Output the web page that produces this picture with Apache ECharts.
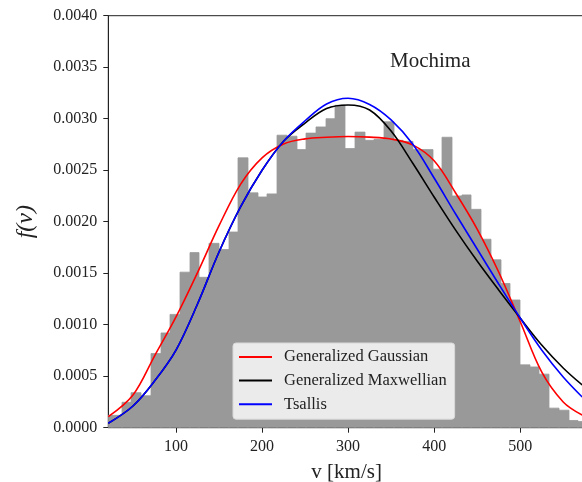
<!DOCTYPE html>
<html>
<head>
<meta charset="utf-8">
<script src="https://cdn.jsdelivr.net/npm/echarts@6/dist/echarts.min.js"></script>
<style>
    html, body { margin: 0; padding: 0; background: #fff; }
    #chart { width: 582px; height: 482px; }
</style>
</head>
<body>
<div id="chart"></div>
<script>
let chart = echarts.init(document.getElementById('chart'));

// histogram: bins of equal width, first bin starts left of the visible range
const binStart = 14.28;
const binWidth = 11.29;
const histHeights = [
    0.00012, 0.00012, 0.000247, 0.00034, 0.00031, 0.00072, 0.00092, 0.0011, 0.00151, 0.0017,
    0.00146, 0.00179, 0.00173, 0.0019, 0.00262, 0.00228, 0.00224, 0.00227, 0.00284, 0.00283,
    0.0027, 0.00286, 0.00292, 0.003, 0.00313, 0.00271, 0.00287, 0.00279, 0.0028, 0.00297,
    0.00279, 0.00278, 0.0027, 0.0027, 0.00251, 0.00282, 0.00225, 0.00226, 0.00212, 0.00183,
    0.00163, 0.0014, 0.00124, 0.00061, 0.00059, 0.00052, 0.00019, 0.00017, 0.00007, 0.00006
];

const curveV = [21.3, 50, 75, 100, 125, 150, 175, 200, 225, 250, 275, 300,
    325, 350, 375, 400, 425, 450, 475, 500, 525, 550, 572.1];
const gaussF = [0.000107, 0.000318, 0.000696, 0.001075, 0.001505, 0.001961, 0.002363, 0.00262, 0.002755, 0.002804, 0.00282, 0.002827,
    0.002821, 0.002803, 0.002746, 0.002591, 0.002279, 0.001929, 0.001512, 0.001031, 0.000541, 0.00025, 0.000123];
const maxwellF = [0.000043, 0.000211, 0.000453, 0.000754, 0.001201, 0.001706, 0.002143, 0.002499, 0.002781, 0.002958, 0.003099, 0.003133,
    0.003084, 0.00288, 0.00257, 0.00224, 0.001918, 0.001618, 0.001337, 0.001065, 0.000803, 0.00058, 0.000415];
const tsallisF = [0.000043, 0.000211, 0.000453, 0.000754, 0.001201, 0.001706, 0.002143, 0.002499, 0.002781, 0.00298, 0.003143, 0.003198,
    0.003138, 0.002988, 0.002754, 0.002424, 0.002075, 0.001735, 0.001395, 0.001065, 0.000754, 0.000492, 0.000298];

const xTicks = [100, 200, 300, 400, 500];
const yTicks = [0, 0.0005, 0.001, 0.0015, 0.002, 0.0025, 0.003, 0.0035, 0.004];

let histData = histHeights.map((h, i) => [binStart + i * binWidth, binStart + (i + 1) * binWidth, h]);
let pairs = f => curveV.map((v, i) => [v, f[i]]);

const serif = 'Liberation Serif';

let option = {
    animation: false,
    title: {
        text: 'Mochima',
        left: 390,
        top: 51,
        padding: 0,
        textStyle: {fontFamily: serif, fontSize: 21, fontWeight: 'normal', color: '#222'}
    },
    grid: {
        left: 108.3,
        top: 15.7,
        bottom: 54.3,
        right: -7,
        outerBoundsMode: 'none',
        containLabel: false,
        show: true,
        borderColor: '#222',
        borderWidth: 1
    },
    legend: {
        orient: 'vertical',
        left: 233,
        top: 343,
        icon: 'rect',
        itemWidth: 33,
        itemHeight: 2,
        itemGap: 6.6,
        padding: [5.5, 8, 6.5, 6],
        backgroundColor: '#ebebeb',
        borderColor: '#d8d8d8',
        borderWidth: 1,
        borderRadius: 3,
        textStyle: {fontFamily: serif, fontSize: 16.5, color: '#222', padding: [0, 0, 0, 7]},
        data: ['Generalized Gaussian', 'Generalized Maxwellian', 'Tsallis']
    },
    xAxis: {
        type: 'value',
        min: 21.3,
        max: 580,
        name: 'v [km/s]',
        nameLocation: 'middle',
        nameGap: 34,
        nameTextStyle: {fontFamily: serif, fontSize: 21, color: '#222', padding: [0, 4, 0, 0]},
        splitLine: {show: false},
        axisLine: {lineStyle: {color: '#222'}},
        axisTick: {customValues: xTicks, length: 5, lineStyle: {color: '#222'}},
        axisLabel: {customValues: xTicks, margin: 11, fontFamily: serif, fontSize: 16, color: '#222'}
    },
    yAxis: {
        type: 'value',
        min: 0,
        max: 0.004,
        name: 'f(v)',
        nameLocation: 'middle',
        nameGap: 71,
        nameRotate: 90,
        nameTextStyle: {fontFamily: serif, fontStyle: 'italic', fontSize: 24, color: '#222'},
        splitLine: {show: false},
        axisLine: {show: true, lineStyle: {color: '#222'}},
        axisTick: {show: true, customValues: yTicks, length: 5, lineStyle: {color: '#222'}},
        axisLabel: {
            customValues: yTicks, margin: 11, fontFamily: serif, fontSize: 16, color: '#222',
            formatter: v => v.toFixed(4)
        }
    },
    series: [
        {
            type: 'custom',
            name: 'hist',
            clip: true,
            renderItem: function (params, api) {
                let p0 = api.coord([api.value(0), api.value(2)]);
                let p1 = api.coord([api.value(1), 0]);
                let x0 = Math.round(p0[0]), x1 = Math.round(p1[0]);
                let rect = echarts.graphic.clipRectByRect(
                    {x: x0, y: p0[1], width: x1 - x0, height: p1[1] - p0[1]},
                    {x: params.coordSys.x, y: params.coordSys.y, width: params.coordSys.width, height: params.coordSys.height}
                );
                return rect && {type: 'rect', shape: rect, style: {fill: '#999999', stroke: '#999999', lineWidth: 0.8}};
            },
            encode: {x: [0, 1], y: 2},
            data: histData,
            z: 1
        },
        {
            name: 'Generalized Gaussian', type: 'line', smooth: 0.35, symbol: 'none',
            lineStyle: {color: '#ff0000', width: 1.6}, itemStyle: {color: '#ff0000'},
            data: pairs(gaussF), z: 3
        },
        {
            name: 'Generalized Maxwellian', type: 'line', smooth: 0.35, symbol: 'none',
            lineStyle: {color: '#000000', width: 1.6}, itemStyle: {color: '#000000'},
            data: pairs(maxwellF), z: 4
        },
        {
            name: 'Tsallis', type: 'line', smooth: 0.35, symbol: 'none',
            lineStyle: {color: '#0000ff', width: 1.6}, itemStyle: {color: '#0000ff'},
            data: pairs(tsallisF), z: 5
        }
    ]
};

chart.setOption(option);
</script>
</body>
</html>
